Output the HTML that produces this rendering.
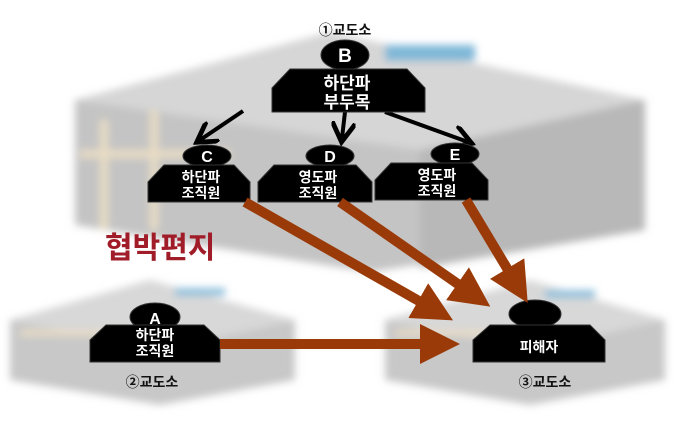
<!DOCTYPE html>
<html><head><meta charset="utf-8"><style>
body{margin:0;background:#fff;}
svg text{font-family:"Liberation Sans","Noto Sans CJK KR",sans-serif;font-weight:bold;}
</style></head><body>
<svg width="680" height="427" viewBox="0 0 680 427" xmlns="http://www.w3.org/2000/svg">
<defs>
<filter id="bl"><feGaussianBlur stdDeviation="4"/></filter>
<marker id="ab" markerWidth="6" markerHeight="6" refX="4" refY="3" orient="auto" markerUnits="strokeWidth"><path d="M0,0 L5,3 L0,6" fill="none" stroke="#000" stroke-width="1.2"/></marker>
<marker id="ar" markerWidth="4" markerHeight="4" refX="2.5" refY="2" orient="auto" markerUnits="strokeWidth"><path d="M0,0 L4,2 L0,4 Z" fill="#9a3a08"/></marker>
</defs>
<g filter="url(#bl)">
<polygon points="75,100 330,32 645,100 645,230 370,272 75,225" fill="#c4c4c4"/>
<polygon points="75,100 330,32 645,100 420,150" fill="#d6d6d6"/>
<polygon points="420,150 645,100 645,230 420,268" fill="#b8b8b8"/>
<rect x="385" y="45" width="90" height="16" fill="#7fb8d8"/>
<rect x="100" y="120" width="8" height="110" fill="#e8dcc4"/>
<rect x="150" y="110" width="8" height="120" fill="#e8dcc4"/>
<rect x="80" y="150" width="150" height="8" fill="#e8dcc4"/>
<polygon points="10,320 150,280 295,320 295,380 160,405 10,380" fill="#c8c8c8"/>
<polygon points="10,320 150,280 295,320 160,350" fill="#d8d8d8"/>
<rect x="175" y="288" width="50" height="8" fill="#8fc0dc"/>
<rect x="20" y="330" width="160" height="6" fill="#e8dcc4"/>
<polygon points="385,320 530,280 665,320 665,380 530,405 385,380" fill="#c8c8c8"/>
<polygon points="385,320 530,280 665,320 530,350" fill="#d8d8d8"/>
<rect x="545" y="290" width="50" height="8" fill="#8fc0dc"/>
<rect x="395" y="330" width="90" height="6" fill="#e8dcc4"/>
</g>
<text x="345" y="35" font-size="14" text-anchor="middle" fill="#111">①교도소</text>
<g stroke="#000" stroke-width="4" fill="none">
<line x1="243" y1="111" x2="200" y2="140" marker-end="url(#ab)"/>
<line x1="345" y1="112" x2="342" y2="138" marker-end="url(#ab)"/>
<line x1="385" y1="112" x2="468" y2="142" marker-end="url(#ab)"/>
</g>
<g fill="#000" stroke="#333" stroke-width="1">
<ellipse cx="345" cy="55" rx="24" ry="15"/>
<polygon points="272,112 272,88 290,69 407,69 425,88 425,112"/>
<ellipse cx="207" cy="156" rx="24" ry="11"/>
<polygon points="148,202 148,182 164,165 234,165 250,182 250,202"/>
<ellipse cx="330" cy="156" rx="24" ry="11"/>
<polygon points="258,202 258,182 274,165 356,165 372,182 372,202"/>
<ellipse cx="455" cy="154" rx="24" ry="11"/>
<polygon points="375,200 375,180 391,163 472,163 488,180 488,200"/>
<ellipse cx="155" cy="317" rx="25" ry="14"/>
<polygon points="90,362 90,340 106,325 204,325 220,340 220,362"/>
<ellipse cx="535" cy="314" rx="26" ry="14"/>
<polygon points="473,362 473,340 490,325 590,325 605,340 605,362"/>
</g>
<g fill="#fff" text-anchor="middle">
<text x="345" y="62" font-size="19">B</text>
<text x="347" y="89" font-size="17">하단파</text>
<text x="347" y="108" font-size="17">부두목</text>
<text x="207" y="162" font-size="16">C</text>
<text x="201" y="182" font-size="14">하단파</text>
<text x="201" y="198" font-size="14">조직원</text>
<text x="330" y="162" font-size="16">D</text>
<text x="318" y="182" font-size="14">영도파</text>
<text x="318" y="198" font-size="14">조직원</text>
<text x="455" y="160" font-size="16">E</text>
<text x="437" y="180" font-size="14">영도파</text>
<text x="437" y="196" font-size="14">조직원</text>
<text x="155" y="324" font-size="16">A</text>
<text x="155" y="340" font-size="14">하단파</text>
<text x="155" y="356" font-size="14">조직원</text>
<text x="539" y="352" font-size="14">피해자</text>
</g>
<g stroke="#9a3a08" stroke-width="10" fill="none">
<line x1="245" y1="202" x2="440" y2="313" marker-end="url(#ar)"/>
<line x1="340" y1="202" x2="478" y2="298" marker-end="url(#ar)"/>
<line x1="466" y1="200" x2="520" y2="290" marker-end="url(#ar)"/>
<line x1="220" y1="344" x2="445" y2="344" marker-end="url(#ar)"/>
</g>
<text x="105" y="258" font-size="30" fill="#a01c28">협박편지</text>
<text x="152" y="387" font-size="14" text-anchor="middle" fill="#111">②교도소</text>
<text x="545" y="387" font-size="14" text-anchor="middle" fill="#111">③교도소</text>
</svg>
</body></html>
